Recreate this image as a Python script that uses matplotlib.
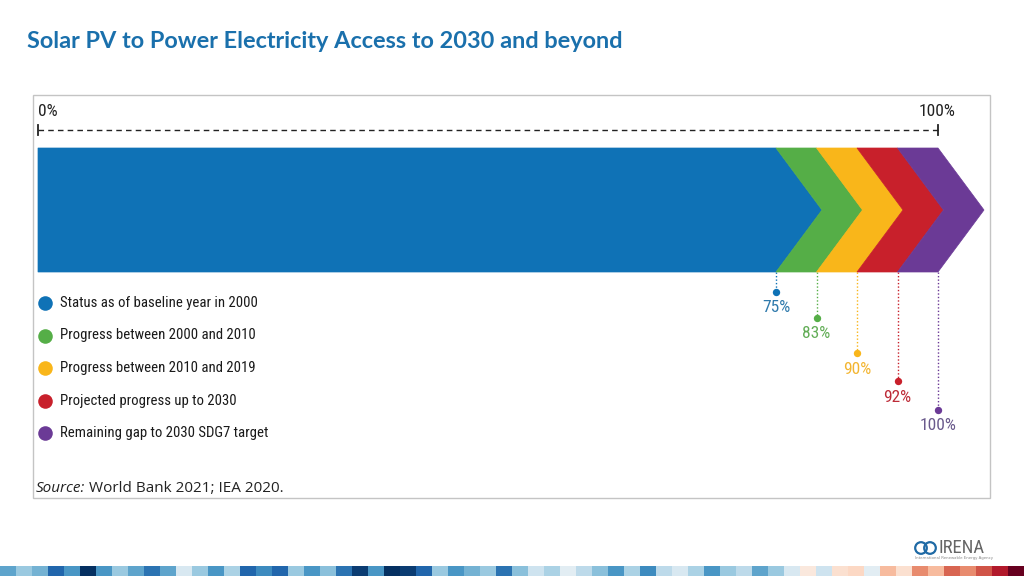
import matplotlib
matplotlib.use('Agg')
import matplotlib.pyplot as plt
from matplotlib import font_manager
from matplotlib.patches import Polygon, Rectangle
import numpy as np

# --- data -------------------------------------------------------------
categories = ['Status as of baseline year in 2000',
              'Progress between 2000 and 2010',
              'Progress between 2010 and 2019',
              'Projected progress up to 2030',
              'Remaining gap to 2030 SDG7 target']
access_share = [75, 83, 90, 92, 100]
seg_colors = ['#0f72b6', '#55ae47', '#f9b61a', '#c8202b', '#6b3a96']
label_colors = ['#2f7aac', '#62ad56', '#f3b530', '#bd2b37', '#6a5a8c']

# warming stripes at the bottom of the slide
stripe_vals = [-0.5, -0.35, -0.45, -0.75, -0.55, -0.95, -0.55, -0.35,
               -0.5, -0.7, -0.5, -0.15, -0.35, -0.55, -0.3, -0.75,
               -0.6, -0.75, -0.35, -0.55, -0.4, -0.7, -0.9, -0.55,
               -1.0, -0.9, -0.75, -0.35, -0.55, -0.45, -0.35, -0.7,
               -0.4, -0.2, -0.3, -0.1, -0.25, -0.4, -0.55, -0.3,
               -0.6, -0.25, -0.15, -0.3, -0.55, -0.35, -0.25, -0.5,
               -0.35, -0.15, 0.1, -0.2, 0.15, 0.2, -0.1, 0.3,
               0.15, 0.45, 0.3, 0.55, 0.45, 0.6, 0.75, 1.0]

# --- fonts ------------------------------------------------------------
available = {f.name for f in font_manager.fontManager.ttflist}

def pick(*names):
    for n in names:
        if n in available:
            return n
    return 'DejaVu Sans'

narrow = pick('Liberation Sans Narrow', 'Roboto Condensed', 'Open Sans Condensed', 'Lato')
title_font = pick('Lato', 'Open Sans', 'DejaVu Sans')
src_font = pick('Open Sans', 'DejaVu Sans')

# --- figure -----------------------------------------------------------
W, H = 1024, 576
fig = plt.figure(figsize=(W / 100, H / 100), dpi=100, facecolor='white')
ax = fig.add_axes([0, 0, 1, 1])
# x in ruler units (0..100 % of the scale), y in slide pixels from top
px = 9.0          # pixels per ruler unit
x0 = 38           # pixel position of 0%
ax.set_xlim(-x0 / px, (W - x0) / px)
ax.set_ylim(H, 0)
ax.axis('off')

# title
ax.text((27 - x0) / px, 42, 'Solar PV to Power Electricity Access to 2030 and beyond',
        fontsize=16.9, fontweight='bold', color='#1a70ac', family=title_font,
        va='center', ha='left')

# frame of the figure panel
ax.add_patch(Rectangle(((33 - x0) / px, 95), (990 - 33) / px, 498 - 95,
                       fill=False, edgecolor='#c4c4c4', linewidth=1))

# ruler
ax.plot([0, 100], [130, 130], color='#222222', lw=1, ls=(0, (4, 3)))
for xr in (0, 100):
    ax.plot([xr, xr], [125, 135], color='#222222', lw=1.3)
ax.text(0, 111, '0%', fontsize=12.5, family=narrow, va='center', ha='left', color='#222222')
ax.text(100 + 1.9, 111, '100%', fontsize=12.5, family=narrow, va='center', ha='right',
        color='#222222')

# chevrons (schematic, not to scale, like the original)
bar_top, bar_bot = 148, 272
mid = (bar_top + bar_bot) / 2
depth = 46 / px
blue_end = 82.0
step = (100 - blue_end) / (len(access_share) - 1)
bounds = [blue_end + i * step for i in range(len(access_share))]

for i, (r, c) in enumerate(zip(bounds, seg_colors)):
    if i == 0:
        pts = [(0, bar_top), (r, bar_top), (r + depth, mid), (r, bar_bot), (0, bar_bot)]
    else:
        l = bounds[i - 1]
        pts = [(l, bar_top), (r, bar_top), (r + depth, mid), (r, bar_bot),
               (l, bar_bot), (l + depth, mid)]
    ax.add_patch(Polygon(pts, closed=True, facecolor=c, edgecolor=c, lw=0.5,
                         zorder=2 + i))

# drop lines with value labels
drop_y = [292, 318, 353, 381, 410]
for r, v, c, lc, dy in zip(bounds, access_share, seg_colors, label_colors, drop_y):
    ax.plot([r, r], [bar_bot, dy], color=c, lw=1, ls=(0, (1, 1.5)), zorder=1)
    ax.scatter([r], [dy], s=28, color=c, zorder=3, linewidths=0)
    ax.text(r, dy + 16, f'{v}%', fontsize=12.5, family=narrow, color=lc,
            ha='center', va='center')

# legend
leg_y0, leg_dy = 303, 32.5
for i, (cat, c) in enumerate(zip(categories, seg_colors)):
    y = leg_y0 + i * leg_dy
    ax.scatter([(45 - x0) / px], [y], s=110, color=c, linewidths=0)
    ax.text((60 - x0) / px, y, cat, fontsize=10.6, family=narrow, color='#1a1a1a',
            va='center', ha='left')

# source
t1 = ax.text((36 - x0) / px, 489, 'Source:', fontsize=11, family=src_font,
             style='italic', color='#222222', va='center', ha='left')
ax.annotate(' World Bank 2021; IEA 2020.', xy=(1, 0.5), xycoords=t1,
            fontsize=11, family=src_font, color='#222222', va='center', ha='left')

# IRENA mark
ax.scatter([(921 - x0) / px, (930 - x0) / px], [548, 548], s=70, facecolors='none',
           edgecolors='#1f6aa5', linewidths=1.6)
ax.text((938 - x0) / px, 548, 'IRENA', fontsize=13.5, family=narrow, color='#666666',
        va='center', ha='left')
ax.text((915 - x0) / px, 558, 'International Renewable Energy Agency', fontsize=2.8,
        color='#888888', va='center', ha='left')

# warming stripes
sax = fig.add_axes([0, 0, 1, 10 / H])
sax.imshow(np.array(stripe_vals)[None, :], cmap='RdBu_r', vmin=-0.95, vmax=0.95,
           aspect='auto', interpolation='nearest')
sax.axis('off')

fig.savefig('out.png', dpi=100, facecolor='white')
